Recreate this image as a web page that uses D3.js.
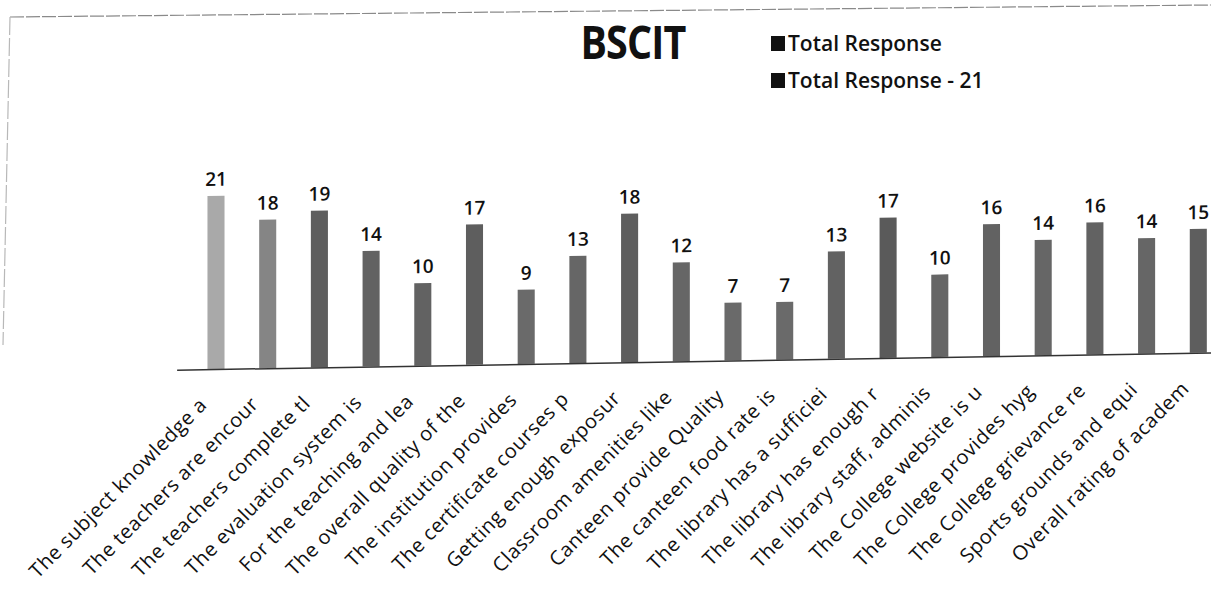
<!DOCTYPE html>
<html><head><meta charset="utf-8">
<script src="https://cdn.jsdelivr.net/npm/d3@7"></script>
<style>body{margin:0;background:#fff;overflow:hidden}svg{display:block}</style>
</head><body>
<svg id="c" width="1211" height="595"></svg>
<script>
const categories = [
  "The subject knowledge a",
  "The teachers are encour",
  "The teachers complete tl",
  "The evaluation system is",
  "For the teaching and lea",
  "The overall quality of the",
  "The institution provides",
  "The certificate courses p",
  "Getting enough exposur",
  "Classroom amenities like",
  "Canteen provide Quality",
  "The canteen food rate is",
  "The library has a sufficiei",
  "The library has enough r",
  "The library staff, adminis",
  "The College website is u",
  "The College provides hyg",
  "The College grievance re",
  "Sports grounds and equi",
  "Overall rating of academ"
];
const values = [21, 18, 19, 14, 10, 17, 9, 13, 18, 12, 7, 7, 13, 17, 10, 16, 14, 16, 14, 15];
const barColors = ["#a9a9a9", "#858585", "#5e5e5e", "#626262", "#626262", "#5e5e5e", "#6a6a6a", "#666666", "#5e5e5e", "#666666",
                   "#6a6a6a", "#6a6a6a", "#626262", "#5a5a5a", "#666666", "#626262", "#666666", "#626262", "#666666", "#5e5e5e"];
const chartTitle = "BSCIT";
const legendLabels = ["Total Response", "Total Response - 21"];
const legendColors = ["#111111", "#111111"];

const W = 1211, H = 595;
const svg = d3.select("#c");

// scanned frame edges
svg.append("line").attr("x1", 10).attr("y1", 17).attr("x2", 1211).attr("y2", 5)
  .attr("stroke", "#8a8a8a").attr("stroke-width", 1.2).attr("stroke-dasharray", "14 2");
svg.append("line").attr("x1", 10).attr("y1", 17).attr("x2", 3).attr("y2", 345)
  .attr("stroke", "#b8b8b8").attr("stroke-width", 1.2).attr("stroke-dasharray", "18 3");

// title (condensed bold)
svg.append("text").attr("transform", "translate(633,59) scale(0.84,1)").attr("text-anchor", "middle")
  .attr("font-family", "'Open Sans', sans-serif").attr("font-weight", 700)
  .attr("font-size", 47).attr("fill", "#111").attr("letter-spacing", -1).text(chartTitle);

// legend
const lg = svg.append("g").selectAll("g").data(legendLabels).join("g")
  .attr("transform", (d, i) => `translate(771,${43 + i * 37})`);
lg.append("rect").attr("x", 0).attr("y", -7).attr("width", 14).attr("height", 15)
  .attr("fill", (d, i) => legendColors[i]);
lg.append("text").attr("x", 17).attr("y", 0).attr("dy", "0.36em")
  .attr("font-family", "'Open Sans', sans-serif").attr("font-weight", 600)
  .attr("font-size", 21).attr("fill", "#111").text(d => d);

// chart body, slightly skewed like the scan
const g = svg.append("g").attr("transform", "skewY(-0.95)");
const step = 51.7;
const x = d3.scaleBand().domain(categories)
  .range([216 - step / 2, 216 - step / 2 + step * categories.length])
  .paddingInner(0.67).paddingOuter(0.335);
const base = 372.6;
const y = d3.scaleLinear().domain([0, 21]).range([base, base - 21 * 8.25]);

g.selectAll("rect.bar").data(values).join("rect").attr("class", "bar")
  .attr("x", (d, i) => x(categories[i]))
  .attr("y", d => y(d))
  .attr("width", x.bandwidth())
  .attr("height", d => y(0) - y(d))
  .attr("fill", (d, i) => barColors[i]);

// axis
const axis = g.append("g").attr("transform", `translate(0,${base})`)
  .call(d3.axisBottom(x).tickSize(0).tickFormat(""));
axis.select(".domain").attr("d", `M${x.range()[0] - 13},0.5H${W + 30}`)
  .attr("stroke", "#333").attr("stroke-width", 1.5);

// value labels
g.selectAll("text.val").data(values).join("text").attr("class", "val")
  .attr("x", (d, i) => x(categories[i]) + x.bandwidth() / 2)
  .attr("y", d => y(d) - 10)
  .attr("text-anchor", "middle")
  .attr("font-family", "'Open Sans', sans-serif").attr("font-weight", 600)
  .attr("font-size", 19).attr("fill", "#111").text(d => d);

// category labels
g.selectAll("text.cat").data(categories).join("text").attr("class", "cat")
  .attr("transform", d => `translate(${x(d) + x.bandwidth() / 2 - 8},${base + 37}) rotate(-45)`)
  .attr("text-anchor", "end")
  .attr("font-family", "'Open Sans', sans-serif").attr("font-weight", 400)
  .attr("font-size", 20).attr("letter-spacing", 0.5).attr("fill", "#111").text(d => d);
</script>
</body></html>
